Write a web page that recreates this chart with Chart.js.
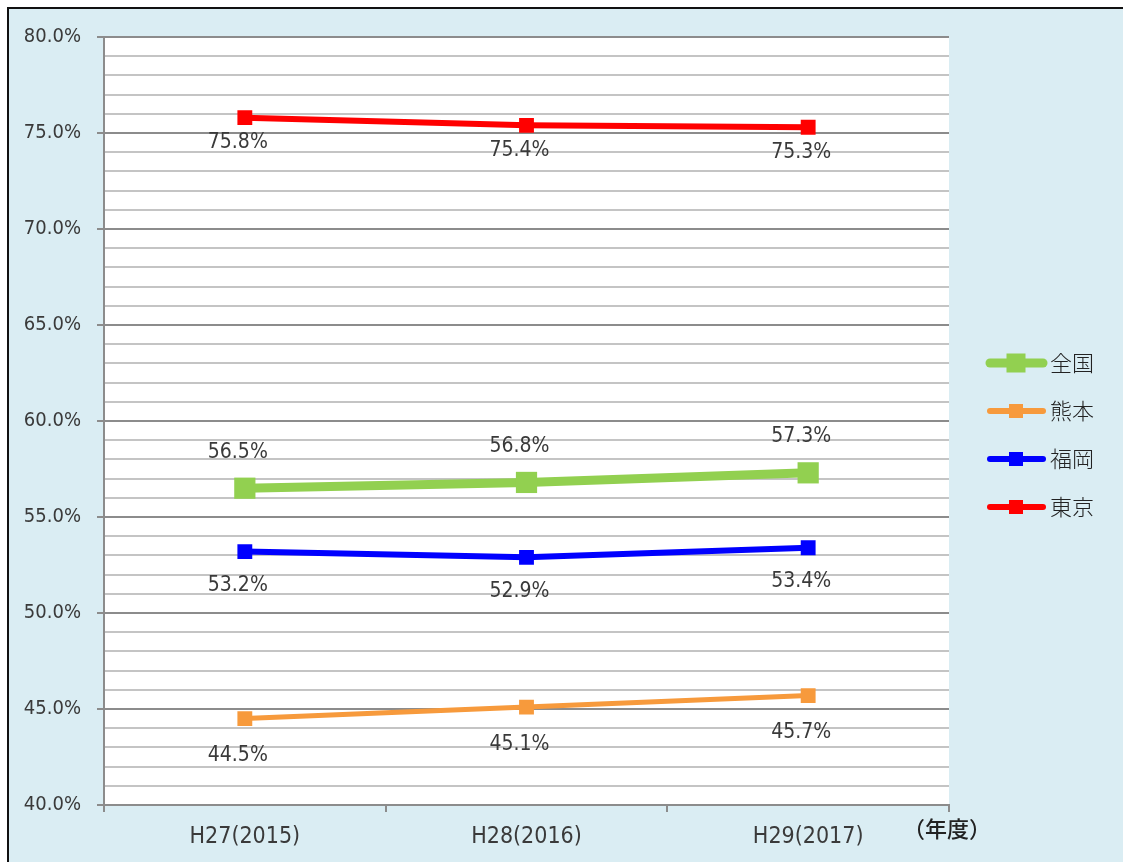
<!DOCTYPE html>
<html>
<head>
<meta charset="utf-8">
<script src="https://cdn.jsdelivr.net/npm/chart.js@4"></script>
<style>
  body { margin: 0; background: #ffffff; }
  #wrap { position: absolute; left: 0; top: 0; width: 1123px; height: 862px; overflow: hidden; }
  #frame { position: absolute; left: 7px; top: 7px; width: 1130px; height: 870px; background: #daedf3; border-left: 2px solid #111; border-top: 2px solid #111; box-sizing: border-box; }
  canvas { position: absolute; left: 0; top: 0; }
</style>
</head>
<body>
<div id="wrap">
  <div id="frame"></div>
  <canvas id="rateChart" width="1123" height="862"></canvas>
</div>
<script>
// data
var years = ['H27(2015)', 'H28(2016)', 'H29(2017)'];
var zenkoku = [56.5, 56.8, 57.3];
var kumamoto = [44.5, 45.1, 45.7];
var fukuoka = [53.2, 52.9, 53.4];
var tokyo = [75.8, 75.4, 75.3];
var seriesNames = ['全国', '熊本', '福岡', '東京'];
var yMin = 40, yMax = 80;

var numFont = '"DejaVu Sans Condensed", "DejaVu Sans", sans-serif';
var cjkFont = '"Noto Sans CJK JP", sans-serif';

// per-series style: colour, line width, marker radius, label offset
var styles = [
    { color: '#92d050', width: 9, radius: 15, labelDy: -36 },
    { color: '#f79a3c', width: 5, radius: 10.5, labelDy: 37 },
    { color: '#0000ff', width: 6, radius: 10.5, labelDy: 34 },
    { color: '#ff0000', width: 6, radius: 10.5, labelDy: 25 }
];

var plotBg = {
    id: 'plotBg',
    beforeDraw: function (chart) {
        var a = chart.chartArea;
        chart.ctx.save();
        chart.ctx.fillStyle = '#ffffff';
        chart.ctx.fillRect(a.left, a.top, a.right - a.left, a.bottom - a.top);
        chart.ctx.restore();
    }
};

var valueLabels = {
    id: 'valueLabels',
    afterDatasetsDraw: function (chart) {
        var ctx = chart.ctx;
        ctx.save();
        ctx.font = '21px ' + numFont;
        ctx.fillStyle = '#3a3a3a';
        ctx.textAlign = 'center';
        ctx.textBaseline = 'middle';
        chart.data.datasets.forEach(function (ds, i) {
            var meta = chart.getDatasetMeta(i);
            meta.data.forEach(function (pt, j) {
                ctx.fillText(ds.data[j].toFixed(1) + '%', pt.x - 7, pt.y + styles[i].labelDy);
            });
        });
        ctx.restore();
    }
};

var sideLegend = {
    id: 'sideLegend',
    afterDraw: function (chart) {
        var ctx = chart.ctx;
        ctx.save();
        var rows = [363, 411, 459, 507];
        chart.data.datasets.forEach(function (ds, i) {
            var st = styles[i];
            var y = rows[i];
            ctx.strokeStyle = st.color;
            ctx.lineWidth = i === 0 ? 9 : 6;
            ctx.lineCap = 'round';
            ctx.beginPath();
            ctx.moveTo(990, y);
            ctx.lineTo(1043, y);
            ctx.stroke();
            var s = i === 0 ? 19 : 14;
            ctx.fillStyle = st.color;
            ctx.fillRect(1016 - s / 2, y - s / 2, s, s);
            ctx.fillStyle = '#222222';
            ctx.font = '300 22px ' + cjkFont;
            ctx.textAlign = 'left';
            ctx.textBaseline = 'middle';
            ctx.fillText(ds.label, 1050, y);
        });
        // unit label
        ctx.font = '500 22px ' + cjkFont;
        ctx.fillStyle = '#222222';
        ctx.textAlign = 'center';
        ctx.textBaseline = 'middle';
        ctx.fillText('（年度）', 947, 829);
        ctx.restore();
    }
};

var allSeries = [zenkoku, kumamoto, fukuoka, tokyo];

new Chart(document.getElementById('rateChart').getContext('2d'), {
    type: 'line',
    data: {
        labels: years,
        datasets: allSeries.map(function (vals, i) {
            return {
                label: seriesNames[i],
                data: vals,
                borderColor: styles[i].color,
                backgroundColor: styles[i].color,
                borderWidth: styles[i].width,
                pointStyle: 'rect',
                pointRadius: styles[i].radius,
                pointBorderWidth: 0,
                tension: 0,
                fill: false
            };
        })
    },
    options: {
        responsive: false,
        animation: false,
        layout: { padding: { left: 0, top: 37, right: 174, bottom: 0 } },
        plugins: {
            legend: { display: false },
            tooltip: { enabled: false }
        },
        scales: {
            x: {
                offset: true,
                afterFit: function (scale) { scale.height = 57; },
                grid: {
                    offset: true,
                    drawOnChartArea: false,
                    drawTicks: true,
                    tickLength: 7,
                    tickColor: '#8c8c8c',
                    lineWidth: 2
                },
                border: { color: '#8c8c8c', width: 2 },
                ticks: {
                    padding: 11,
                    color: '#3a3a3a',
                    font: { family: numFont, size: 23 }
                }
            },
            y: {
                min: yMin,
                max: yMax,
                afterFit: function (scale) { scale.width = 104; },
                grid: {
                    lineWidth: 2,
                    color: function (c) { return c.tick && c.tick.value % 5 === 0 ? '#8c8c8c' : '#c4c4c4'; },
                    tickColor: function (c) { return c.tick && c.tick.value % 5 === 0 ? '#8c8c8c' : 'rgba(0,0,0,0)'; },
                    tickLength: 7
                },
                border: { color: '#8c8c8c', width: 2 },
                ticks: {
                    stepSize: 1,
                    autoSkip: false,
                    padding: 16,
                    color: '#3a3a3a',
                    font: { family: numFont, size: 20 },
                    callback: function (v) { return v % 5 === 0 ? v.toFixed(1) + '%' : ''; }
                }
            }
        }
    },
    plugins: [plotBg, valueLabels, sideLegend]
});
</script>
</body>
</html>
